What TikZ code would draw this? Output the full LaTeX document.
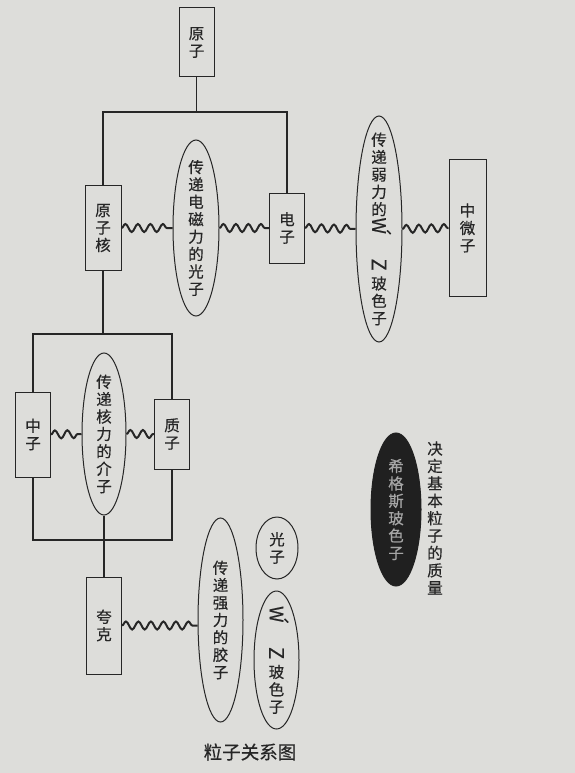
\documentclass[tikz,border=0pt]{standalone}
\usepackage{fontspec}
\usepackage{graphicx}
\newfontfamily\cjk[FakeBold=0.4]{Noto Sans CJK SC}
\usetikzlibrary{shapes.geometric}
\usetikzlibrary{decorations.pathmorphing}

\definecolor{paper}{RGB}{221,221,218}
\definecolor{ink}{RGB}{38,38,38}
\definecolor{higgsfill}{RGB}{32,32,32}
\definecolor{higgstext}{RGB}{165,165,165}

\newcommand{\rotW}{\rotatebox[origin=c]{-90}{\scalebox{1.2}{W}}}
\newcommand{\rotZ}{\rotatebox[origin=c]{-90}{\scalebox{1.3}{Z}}}
\newcommand{\dunhao}{\rlap{\raisebox{-1pt}{\hspace*{0pt}、}}}

\tikzset{
  label/.style={text=ink, inner sep=0pt, align=center,
    font=\cjk\fontsize{15.5}{17.4}\selectfont},
  particle/.style={label, draw=ink, line width=1pt, rectangle},
  carrier/.style={draw=ink, line width=1pt, ellipse, inner sep=0pt},
  conn/.style={draw=ink, line width=1.8pt},
  wave/.style={draw=ink, line width=2pt, decorate,
    decoration={snake, segment length=12.5pt, amplitude=4pt}},
}

\begin{document}
\begin{tikzpicture}[x=1pt, y=-1pt]
  % Paper
  \fill[paper] (0,0) rectangle (575,773);
  \useasboundingbox (0,0) rectangle (575,773);

  % Atom and its parts
  \node[particle, minimum width=35pt, minimum height=69pt] (atom) at (196.5,42.5) {原\\子};
  \node[particle, minimum width=36pt, minimum height=85pt] (nucleus) at (103,228) {原\\子\\核};
  \node[particle, minimum width=35pt, minimum height=70pt] (electron) at (287,228) {电\\子};
  \node[particle, minimum width=37pt, minimum height=137pt] (neutrino) at (467.5,228) {中\\微\\子};

  % Force carriers of the first row
  \node[carrier, minimum width=46pt, minimum height=176pt] (emphoton) at (196,228) {};
  \node[label] (emphotontext) at (emphoton.center) {传\\递\\电\\磁\\力\\的\\光\\子};
  \node[carrier, minimum width=46pt, minimum height=226pt] (weak) at (379,229) {};
  \node[label] (weaktext) at (weak.center)
    {传\\递\\弱\\力\\的\\\rotW\dunhao\\[22pt]\rotZ\\玻\\色\\子};

  % Nucleons
  \node[particle, minimum width=35pt, minimum height=85pt] (neutron) at (33,434.5) {中\\子};
  \node[particle, minimum width=35pt, minimum height=70pt] (proton) at (172,434) {质\\子};
  \node[carrier, minimum width=44pt, minimum height=162pt] (meson) at (104,434) {};
  \node[label] (mesontext) at (meson.center) {传\\递\\核\\力\\的\\介\\子};

  % Quarks and gluons
  \node[particle, minimum width=35pt, minimum height=97pt] (quark) at (104,625.5) {夸\\克};
  \node[carrier, minimum width=45pt, minimum height=204pt] (gluon) at (220.5,620) {};
  \node[label] (gluontext) at (gluon.center) {传\\递\\强\\力\\的\\胶\\子};

  % The other carriers
  \node[carrier, minimum width=42pt, minimum height=62pt] (photon) at (277,548) {};
  \node[label] (photontext) at (photon.center) {光\\子};
  \node[carrier, minimum width=45pt, minimum height=138pt] (wz) at (276.5,660) {};
  \node[label] (wztext) at (wz.center) {\rotW\dunhao\\[22pt]\rotZ\\玻\\色\\子};

  % Higgs boson
  \node[carrier, draw=higgsfill, fill=higgsfill,
    minimum width=50pt, minimum height=153pt] (higgs) at (396,509.5) {};
  \node[label, text=higgstext] (higgstext) at (higgs.center) {希\\格\\斯\\玻\\色\\子};
  \node[label] (mass) at (435,518) {决\\定\\基\\本\\粒\\子\\的\\质\\量};

  % Tree lines
  \coordinate (split1) at (196.5,112);
  \coordinate (split2) at (103,334);
  \coordinate (join2) at (104,540);
  \draw[conn] (atom.south) -- (split1);
  \draw[conn] (nucleus.north) |- (split1) -| (electron.north);
  \draw[conn] (nucleus.south) -- (split2);
  \draw[conn] (neutron.north) |- (split2) -| (proton.north);
  \draw[conn] (neutron.south) |- (join2) -| (proton.south);
  \draw[conn] (meson.south) -- (quark.north);

  % Wavy couplings
  \draw[wave] (nucleus.east) -- (emphoton.west);
  \draw[wave] (emphoton.east) -- (electron.west);
  \draw[wave] (electron.east) -- (weak.west);
  \draw[wave] (weak.east) -- (neutrino.west);
  \draw[wave] (neutron.east) -- (meson.west);
  \draw[wave] (meson.east) -- (proton.west);
  \draw[wave] (quark.east) -- (quark.east -| gluon.west);

  % Caption
  \node[text=ink, font=\cjk\fontsize{18.5}{20}\selectfont] (caption) at (250,752) {粒子关系图};
\end{tikzpicture}
\end{document}
